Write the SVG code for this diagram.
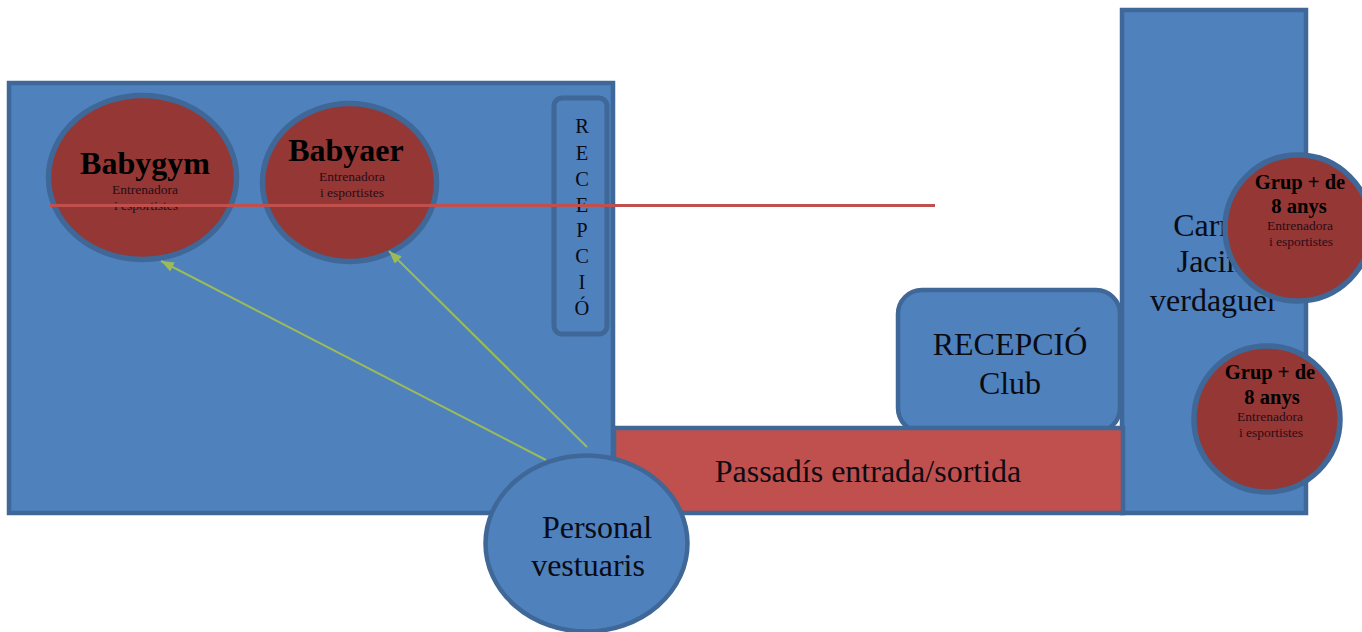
<svg xmlns="http://www.w3.org/2000/svg" width="1362" height="632" viewBox="0 0 1362 632">
<style>
text{font-family:"Liberation Serif",serif;fill:#0b0b14;text-anchor:middle}
.b{fill:#4f81bd;stroke:#3f6797;stroke-width:4.500}
.r{fill:#953735;stroke:#3f6797;stroke-width:5.500}
.t{font-size:32px}
.h{font-weight:bold;font-size:32px;fill:#000}
.g{font-weight:bold;font-size:20.500px;fill:#000}
.s{font-size:13.500px;fill:#2a0c14}
.c{fill:none;stroke:#9bbb59;stroke-width:2}
</style>
<defs><marker id="a" markerWidth="14" markerHeight="12" refX="13" refY="5" orient="auto" markerUnits="userSpaceOnUse"><path d="M0 0L13 5L0 10Z" fill="#9bbb59"/></marker></defs>
<g id="sala"><rect class="b" x="9" y="83" width="604" height="430"/></g>
<g id="carrer"><rect class="b" x="1122" y="10" width="184" height="503"/><text class="t"><tspan x="1214" y="236">Carrer</tspan><tspan x="1214" y="272">Jacint</tspan><tspan x="1214" y="311">verdaguer</tspan></text></g>
<g id="recepcio-club"><rect class="b" x="898" y="290" width="222" height="142" rx="24"/><text class="t"><tspan x="1010" y="355">RECEPCIÓ</tspan><tspan x="1010" y="394">Club</tspan></text></g>
<g id="passadis"><rect x="614" y="428" width="509" height="85" fill="#c0504d" stroke="#3f6797" stroke-width="4.500"/><text class="t" x="868" y="482">Passadís entrada/sortida</text></g>
<g id="recepcio"><rect class="b" x="554" y="98" width="53" height="236" rx="8" style="stroke-width:5"/><text font-size="20.500px"><tspan x="582" y="133">R</tspan><tspan x="582" y="160">E</tspan><tspan x="582" y="186">C</tspan><tspan x="582" y="212">E</tspan><tspan x="582" y="237">P</tspan><tspan x="582" y="263">C</tspan><tspan x="582" y="289">I</tspan><tspan x="582" y="315">Ó</tspan></text></g>
<g id="babygym"><ellipse class="r" cx="142.500" cy="177.500" rx="94" ry="82"/><text class="h" x="145" y="174">Babygym</text><text class="s"><tspan x="145" y="194">Entrenadora</tspan><tspan x="146" y="210">i esportistes</tspan></text></g>
<g id="babyaer"><ellipse class="r" cx="349.500" cy="182.500" rx="87" ry="79"/><text class="h" x="346" y="161">Babyaer</text><text class="s"><tspan x="352" y="181">Entrenadora</tspan><tspan x="352" y="197">i esportistes</tspan></text></g>
<g id="connectors"><path d="M50 205.500H935" fill="none" stroke="#c0504d" stroke-width="3"/><path class="c" d="M546 460L161 261" marker-end="url(#a)"/><path class="c" d="M587 447L389 251" marker-end="url(#a)"/></g>
<g id="personal"><ellipse class="b" cx="586.500" cy="543.500" rx="101" ry="88"/><text class="t"><tspan x="597" y="538">Personal</tspan><tspan x="588" y="576">vestuaris</tspan></text></g>
<g id="grup1"><circle class="r" cx="1298" cy="228" r="73"/><text class="g"><tspan x="1300" y="189">Grup + de</tspan><tspan x="1299" y="213">8 anys</tspan></text><text class="s"><tspan x="1300" y="230">Entrenadora</tspan><tspan x="1301" y="246">i esportistes</tspan></text></g>
<g id="grup2"><circle class="r" cx="1267" cy="419" r="73"/><text class="g"><tspan x="1270" y="379">Grup + de</tspan><tspan x="1272" y="404">8 anys</tspan></text><text class="s"><tspan x="1270" y="421">Entrenadora</tspan><tspan x="1271" y="437">i esportistes</tspan></text></g>
</svg>
